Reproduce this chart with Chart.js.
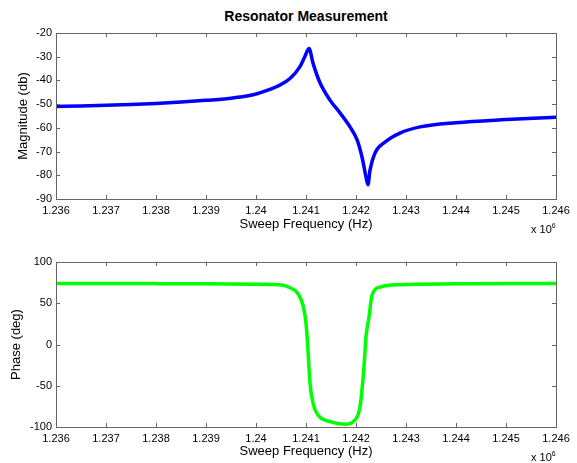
<!DOCTYPE html>
<html>
<head>
<meta charset="utf-8">
<script src="https://cdn.jsdelivr.net/npm/chart.js@4"></script>
<style>
  body { margin: 0; background: #fff; width: 577px; height: 463px; position: relative; overflow: hidden; font-family: "Liberation Sans", Arial, sans-serif; }
  canvas { position: absolute; left: 0; }
  #titel { position: absolute; left: 56px; width: 500px; top: 8px; text-align: center; font-weight: bold; font-size: 14px; }
  .eksp { position: absolute; left: 531px; font-size: 11px; }
  .eksp sup { font-size: 7px; }
</style>
</head>
<body>
<div id="titel">Resonator Measurement</div>
<canvas id="magChart" width="577" height="240" style="top:0"></canvas>
<canvas id="faseChart" width="577" height="223" style="top:240px"></canvas>
<div class="eksp" style="top:222px">x 10<sup>6</sup></div>
<div class="eksp" style="top:450px">x 10<sup>6</sup></div>
<script>
// Frekvens i MHz (aksen viser x 10^6)
const magFrekvens = [1.2360, 1.2365, 1.2370, 1.2375, 1.2380, 1.2385, 1.2390, 1.2395, 1.23968, 1.2400, 1.24025,
  1.24048, 1.24068, 1.24088, 1.24098, 1.24106, 1.24114, 1.24128, 1.24148, 1.24168, 1.24188,
  1.24202, 1.24212, 1.24220, 1.24224, 1.24228, 1.24238, 1.24258, 1.24288, 1.24328, 1.2440, 1.2450, 1.2460];
const magDb = [-51.0, -50.8, -50.5, -50.2, -49.7, -49.1, -48.4, -47.5, -47.0, -45.7, -44.0,
  -41.9, -39.2, -34.2, -29.8, -26.5, -32.7, -41.0, -48.3, -53.7, -59.6,
  -65.0, -72.3, -80.7, -84.0, -77.8, -70.6, -66.0, -62.2, -59.6, -57.8, -56.5, -55.5];

const faseFrekvens = [1.2360, 1.2370, 1.2380, 1.2390, 1.2400, 1.24048, 1.24068, 1.24084, 1.24094, 1.24100,
  1.24104, 1.24108, 1.24114, 1.24124, 1.24148, 1.24178, 1.24198, 1.24208, 1.24216, 1.24220,
  1.24226, 1.24232, 1.24248, 1.24288, 1.2440, 1.2450, 1.2460];
const faseGrader = [74.0, 74.0, 73.8, 73.5, 73.0, 72.4, 68.8, 61.6, 47.4, 25.7,
  -7.0, -46.8, -71.0, -85.5, -93.6, -96.7, -91.5, -75.4, -27.0, 9.1,
  33.3, 59.5, 69.5, 72.5, 73.5, 74.0, 74.0];

const xTicks = [1.236, 1.237, 1.238, 1.239, 1.240, 1.241, 1.242, 1.243, 1.244, 1.245, 1.246];

const font = { family: '"Liberation Sans", Arial, sans-serif', size: 11 };
const kantFarge = '#666';

// rammer og innovervendte tikkmerker, som i MATLAB
const rammePlugin = {
  id: 'ramme',
  afterDatasetsDraw(chart) {
    const { ctx, chartArea: a, scales } = chart;
    ctx.save();
    ctx.strokeStyle = kantFarge;
    ctx.lineWidth = 1;
    ctx.strokeRect(Math.round(a.left) + 0.5, Math.round(a.top) + 0.5, Math.round(a.right - a.left), Math.round(a.bottom - a.top));
    ctx.beginPath();
    scales.x.ticks.forEach(t => {
      const px = Math.round(scales.x.getPixelForValue(t.value)) + 0.5;
      ctx.moveTo(px, a.top); ctx.lineTo(px, a.top + 4);
      ctx.moveTo(px, a.bottom); ctx.lineTo(px, a.bottom - 4);
    });
    scales.y.ticks.forEach(t => {
      const py = Math.round(scales.y.getPixelForValue(t.value)) + 0.5;
      ctx.moveTo(a.left, py); ctx.lineTo(a.left + 4, py);
      ctx.moveTo(a.right, py); ctx.lineTo(a.right - 4, py);
    });
    ctx.stroke();
    ctx.restore();
  }
};

function lagGraf(id, xs, ys, farge, yMin, yMax, ySteg, yTittel, topp, xHoyde, yTittelPad, tittelBunn) {
  new Chart(document.getElementById(id), {
    type: 'line',
    data: {
      datasets: [{
        data: xs.map((x, i) => ({ x: x, y: ys[i] })),
        borderColor: farge,
        borderWidth: 3.5,
        pointRadius: 0,
        cubicInterpolationMode: 'monotone',
        fill: false
      }]
    },
    options: {
      responsive: false,
      animation: false,
      layout: { padding: { top: topp, right: 21, left: 0, bottom: 0 } },
      plugins: { legend: { display: false }, tooltip: { enabled: false } },
      scales: {
        x: {
          type: 'linear',
          min: 1.236, max: 1.246,
          afterBuildTicks: s => { s.ticks = xTicks.map(v => ({ value: v })); },
          afterFit: s => { s.height = xHoyde; },
          grid: { display: false, drawTicks: false },
          border: { display: false },
          ticks: { color: '#000', font: font, padding: 5, maxRotation: 0, autoSkip: false,
            callback: v => String(+v.toFixed(3)) },
          title: { display: true, text: 'Sweep Frequency (Hz)', color: '#000',
            font: { family: font.family, size: 13 }, padding: { top: 0, bottom: tittelBunn } }
        },
        y: {
          min: yMin, max: yMax,
          afterFit: s => { s.width = 56; },
          grid: { display: false, drawTicks: false },
          border: { display: false },
          ticks: { color: '#000', font: font, padding: 4, stepSize: ySteg },
          title: { display: true, text: yTittel, color: '#000',
            font: { family: font.family, size: 13 }, padding: { top: yTittelPad, bottom: 0 } }
        }
      }
    },
    plugins: [rammePlugin]
  });
}

lagGraf('magChart', magFrekvens, magDb, '#0000ff', -90, -20, 10, 'Magnitude (db)', 33, 41, 16, 8);
lagGraf('faseChart', faseFrekvens, faseGrader, '#00ff00', -100, 100, 50, 'Phase (deg)', 22, 36, 9, 4);
</script>
</body>
</html>
